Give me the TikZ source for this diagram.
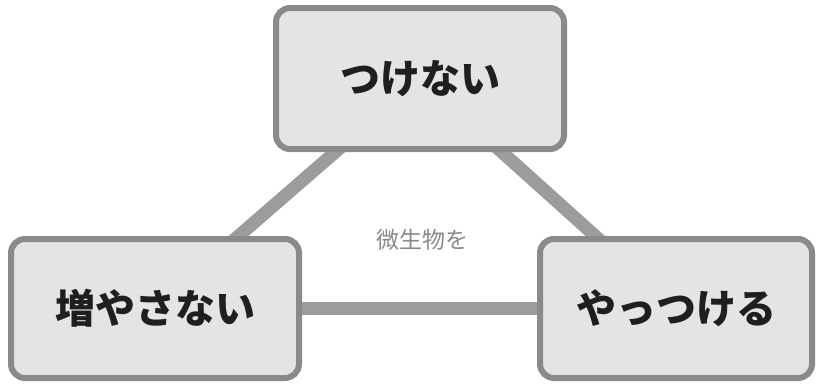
\documentclass[tikz,border=0pt]{standalone}
\usepackage{fontspec}
\usetikzlibrary{backgrounds}
\newfontfamily\jpfont{Noto Sans CJK JP}
\definecolor{boxfill}{HTML}{E4E4E4}
\definecolor{boxline}{HTML}{8A8A8A}
\definecolor{linkgray}{HTML}{9C9C9C}

\begin{document}
\begin{tikzpicture}[x=1pt, y=-1pt, font=\jpfont,
    actbox/.style={draw=boxline, fill=boxfill, line width=6pt, rounded corners=14pt,
      minimum height=139pt, font=\jpfont\bfseries\fontsize{40}{40}\selectfont, text=black!88},
    link/.style={linkgray, line width=13pt}]
  \useasboundingbox (0,0) rectangle (819,383);
  % the three actions
  \node[actbox, minimum width=288pt, minimum height=141pt] (tsuke) at (420,78.5) {つけない};
  \node[actbox, minimum width=288pt] (fuya) at (155,308.5) {増やさない};
  \node[actbox, minimum width=272pt] (yattsu) at (676,308.5) {やっつける};
  \node[text=boxline, font=\jpfont\fontsize{23}{23}\selectfont] (biseibutsu) at (422,240) {微生物を};
  % connectors behind the boxes
  \begin{scope}[on background layer]
    \draw[link] (tsuke.center) -- (fuya.center);
    \draw[link] (tsuke.center) -- (yattsu.center);
    \draw[link] (fuya.center) -- (yattsu.center);
  \end{scope}
\end{tikzpicture}
\end{document}
